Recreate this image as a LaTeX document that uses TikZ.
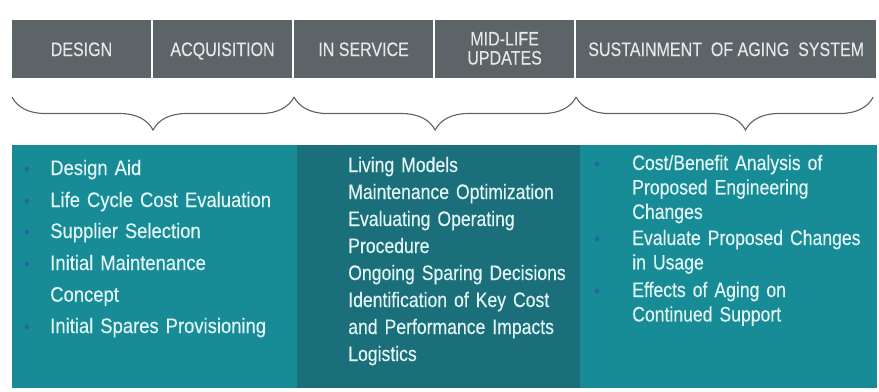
\documentclass[tikz,border=0pt]{standalone}
\usepackage{fontspec}
\setmainfont{Liberation Sans}
\newfontfamily\headfont[FakeStretch=0.82, FakeBold=0.2]{Liberation Sans}
\newfontfamily\narrowfont[FakeStretch=0.88, FakeBold=0.3]{Liberation Sans}
\newfontfamily\condfont[FakeStretch=0.84, FakeBold=0.3]{Liberation Sans}
\usepackage{xcolor}
\usepackage{tikz}
\usetikzlibrary{positioning, decorations.pathreplacing}

\definecolor{phasegrey}{HTML}{5C6467}
\definecolor{headtext}{HTML}{E4E8E8}
\definecolor{panelteal}{HTML}{188C96}
\definecolor{paneldark}{HTML}{1A6F7A}
\definecolor{itemtext}{HTML}{E2F5F4}
\definecolor{bulletblue}{HTML}{2466A0}
\definecolor{bracegrey}{HTML}{5F6567}

\begin{document}
\begin{tikzpicture}[
    x=0.025cm, y=0.025cm,
    phase/.style={rectangle, fill=phasegrey, text=headtext, inner sep=0, outer sep=0, minimum width=3.475cm, minimum height=1.45cm, text height=10pt, text depth=0pt, font=\headfont\fontsize{13.9pt}{12.8pt}\selectfont},
    panel/.style={rectangle, inner sep=0, outer sep=0, minimum height=6.075cm},
    item/.style={text=itemtext, inner sep=0, text width=7cm, align=left, anchor=base west, font=\condfont\fontsize{14.9pt}{#1}\selectfont},
    loose item/.style={item=#1, font=\narrowfont\fontsize{14.9pt}{#1}\selectfont},
    bullet/.style={circle, fill=bulletblue, inner sep=0, minimum size=0.12cm},
    brace/.style={decorate, decoration={brace, amplitude=0.825cm, #1}, draw=bracegrey, line width=0.8pt},
    brace/.default={aspect=0.5}
]
\useasboundingbox (0,0) rectangle (879,391);

% Phases
\node[phase] (design) at (81.5,342) {DESIGN};
\node[phase, right=0.05cm of design] (acq) {ACQUISITION};
\node[phase, right=0.05cm of acq] (inserv) {IN SERVICE};
\node[phase, right=0.05cm of inserv] (midlife) {\begin{tabular}{@{}c@{}}MID-LIFE\\UPDATES\end{tabular}};
\node[phase, right=0.05cm of midlife, minimum width=7.5cm] (sustain) {SUSTAINMENT\ \ OF AGING\ \ SYSTEM};

% Braces
\draw[brace] ([yshift=-0.475cm]inserv.south west) -- ([yshift=-0.475cm]design.south west);
\draw[brace] ([yshift=-0.475cm]sustain.south west) -- ([yshift=-0.475cm]inserv.south west);
\draw[brace={aspect=0.43}] ([shift={(-3,-19)}]sustain.south east) -- ([yshift=-0.475cm]sustain.south west);

% Panels
\node[panel, fill=panelteal, minimum width=7.125cm, anchor=north west] (early) at (12,246) {};
\node[panel, fill=paneldark, minimum width=7.075cm, right=0 of early] (middle) {};
\node[panel, fill=panelteal, minimum width=7.425cm, right=0 of middle] (late) {};

% Design and acquisition
\node[loose item=22.5pt] (d1) at (50,216) {Design Aid};
\node[loose item=22.5pt] (d2) at (50,184) {Life Cycle Cost Evaluation};
\node[loose item=22.5pt] (d3) at (50,153) {Supplier Selection};
\node[loose item=22.5pt] (d4) at (50,121) {Initial Maintenance\\Concept};
\node[loose item=22.5pt] (d5) at (50,58) {Initial Spares Provisioning};
\foreach \n in {d1,d2,d3,d4,d5}
    \node[bullet] at ([shift={(-23,6)}]\n.base west) {};

% In service and mid-life
\node[item=19.2pt] (s1) at (348,219) {Living Models};
\node[item=19.2pt] (s2) at (348,192) {Maintenance Optimization};
\node[item=19.2pt] (s3) at (348,165) {Evaluating Operating\\Procedure};
\node[item=19.2pt] (s4) at (348,111) {Ongoing Sparing Decisions};
\node[item=19.2pt] (s5) at (348,84) {Identification of Key Cost\\and Performance Impacts};
\node[item=19.2pt] (s6) at (348,30) {Logistics};

% Sustainment
\node[item=17.4pt] (c1) at (632,221) {Cost/Benefit Analysis of\\Proposed Engineering\\Changes};
\node[item=17.4pt] (c2) at (632,146) {Evaluate Proposed Changes\\in Usage};
\node[item=17.4pt] (c3) at (632,94) {Effects of Aging on\\Continued Support};
\foreach \n in {c1,c2,c3}
    \node[bullet] at ([shift={(-35,6)}]\n.base west) {};

\end{tikzpicture}
\end{document}
